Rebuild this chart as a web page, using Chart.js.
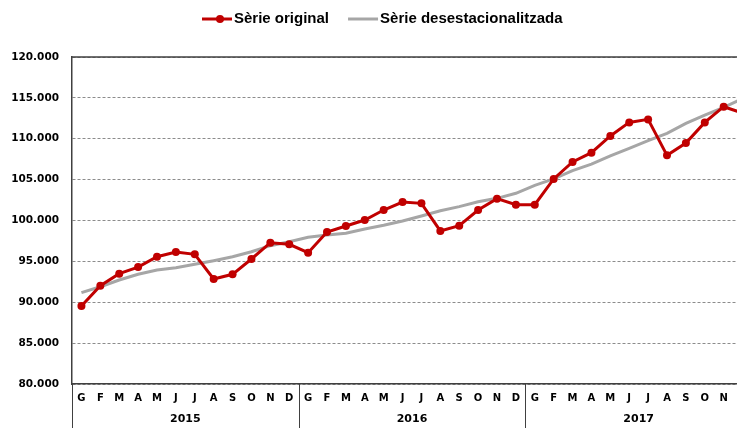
<!DOCTYPE html>
<html>
<head>
<meta charset="utf-8">
<script src="https://cdn.jsdelivr.net/npm/chart.js@4"></script>
<style>
  html, body { margin: 0; padding: 0; background: #fff; overflow: hidden; }
  #wrap { width: 756px; height: 428px; }
</style>
</head>
<body>
<div id="wrap"><canvas id="chart" width="756" height="428"></canvas></div>
<script>
const years = ["2015", "2016", "2017"];
const months = ["G", "F", "M", "A", "M", "J", "J", "A", "S", "O", "N", "D"];

const serieOriginal = [
  89540, 92020, 93500, 94300, 95570, 96150, 95860, 92840, 93420, 95290, 97280, 97090,
  96060, 98590, 99330, 100060, 101280, 102260, 102100, 98720, 99370, 101280, 102670, 101930,
  101930, 105080, 107160, 108300, 110340, 112000, 112370, 107970, 109480, 112000, 113920, 113150
];
const serieDesest = [
  91170, 91900, 92720, 93420, 93940, 94230, 94640, 95080, 95570, 96180, 96920, 97410,
  97940, 98230, 98430, 98960, 99410, 99940, 100550, 101200, 101700, 102300, 102710, 103330,
  104300, 105080, 106100, 106900, 107900, 108830, 109760, 110670, 111890, 112900, 113850, 114900
];
const yTicks = [80000, 85000, 90000, 95000, 100000, 105000, 110000, 115000, 120000];

const labels = years.flatMap(() => months);
const RED = "#C00000";
const GREY = "#A6A6A6";
const AXIS = "#404040";

const fmt = (v) => v.toLocaleString("de-DE");

const extras = {
  id: "extras",
  afterDraw(chart) {
    const { ctx, chartArea } = chart;
    const x = chart.scales.x;
    const bottom = chart.height;
    ctx.save();

    // top border
    ctx.strokeStyle = AXIS;
    ctx.lineWidth = 1.5;
    ctx.beginPath();
    ctx.moveTo(chartArea.left, chartArea.top);
    ctx.lineTo(chartArea.right, chartArea.top);
    ctx.stroke();

    // left axis and year separators down through the label rows
    ctx.lineWidth = 1;
    ctx.strokeStyle = AXIS;
    ctx.beginPath();
    ctx.moveTo(chartArea.left + 0.5, chartArea.bottom);
    ctx.lineTo(chartArea.left + 0.5, bottom);
    years.forEach((y, i) => {
      const last = (i + 1) * months.length - 1;
      const sx = Math.round(x.getPixelForValue(last) + (x.getPixelForValue(1) - x.getPixelForValue(0)) / 2) + 0.5;
      ctx.moveTo(sx, chartArea.bottom);
      ctx.lineTo(sx, bottom);
    });
    ctx.stroke();

    // year labels
    ctx.fillStyle = "#000";
    ctx.font = "bold 11px 'DejaVu Sans'";
    ctx.textAlign = "center";
    ctx.textBaseline = "middle";
    years.forEach((y, i) => {
      const a = x.getPixelForValue(i * months.length);
      const b = x.getPixelForValue((i + 1) * months.length - 1);
      ctx.fillText(y, (a + b) / 2, 419.5);
    });

    // legend
    const items = [
      { text: "Sèrie original", color: RED, dot: true },
      { text: "Sèrie desestacionalitzada", color: GREY, dot: false }
    ];
    ctx.font = "bold 15px 'Liberation Sans'";
    const sample = 30, gap = 2, between = 19;
    let lx = 202;
    const ly = 19;
    ctx.textAlign = "left";
    items.forEach((it) => {
      ctx.strokeStyle = it.color;
      ctx.lineWidth = 3;
      ctx.beginPath();
      ctx.moveTo(lx, ly);
      ctx.lineTo(lx + sample, ly);
      ctx.stroke();
      if (it.dot) {
        ctx.fillStyle = it.color;
        ctx.beginPath();
        ctx.arc(lx + 18, ly, 4, 0, Math.PI * 2);
        ctx.fill();
      }
      lx += sample + gap;
      ctx.fillStyle = "#000";
      ctx.fillText(it.text, lx, ly);
      lx += ctx.measureText(it.text).width + between;
    });
    ctx.restore();
  }
};

new Chart(document.getElementById("chart"), {
  type: "line",
  data: {
    labels,
    datasets: [
      {
        label: "Sèrie original",
        data: serieOriginal,
        borderColor: RED,
        backgroundColor: RED,
        borderWidth: 3,
        pointRadius: 4,
        pointBackgroundColor: RED,
        pointBorderWidth: 0,
        tension: 0
      },
      {
        label: "Sèrie desestacionalitzada",
        data: serieDesest,
        borderColor: GREY,
        backgroundColor: GREY,
        borderWidth: 3,
        pointRadius: 0,
        tension: 0
      }
    ]
  },
  options: {
    responsive: false,
    animation: false,
    layout: { padding: { top: 57, left: 0, right: 0, bottom: 0 } },
    plugins: {
      legend: { display: false },
      tooltip: { enabled: false }
    },
    scales: {
      x: {
        offset: true,
        grid: { display: false, drawTicks: false },
        border: { display: true, color: AXIS, width: 1.5 },
        ticks: {
          color: "#000",
          font: { family: "'DejaVu Sans'", weight: "bold", size: 10 },
          padding: 8,
          maxRotation: 0,
          autoSkip: false
        },
        afterFit(scale) { scale.height = 44; }
      },
      y: {
        min: 80000,
        max: 120000,
        afterBuildTicks(scale) { scale.ticks = yTicks.map((v) => ({ value: v })); },
        grid: { color: "#8c8c8c", lineWidth: 1, drawTicks: false },
        border: { display: true, color: AXIS, width: 1.5, dash: [3, 2] },
        ticks: {
          color: "#000",
          font: { family: "'DejaVu Sans'", weight: "bold", size: 10.5 },
          padding: 13,
          callback: (v) => fmt(v)
        },
        afterFit(scale) { scale.width = 72; }
      }
    }
  },
  plugins: [extras]
});
</script>
</body>
</html>
